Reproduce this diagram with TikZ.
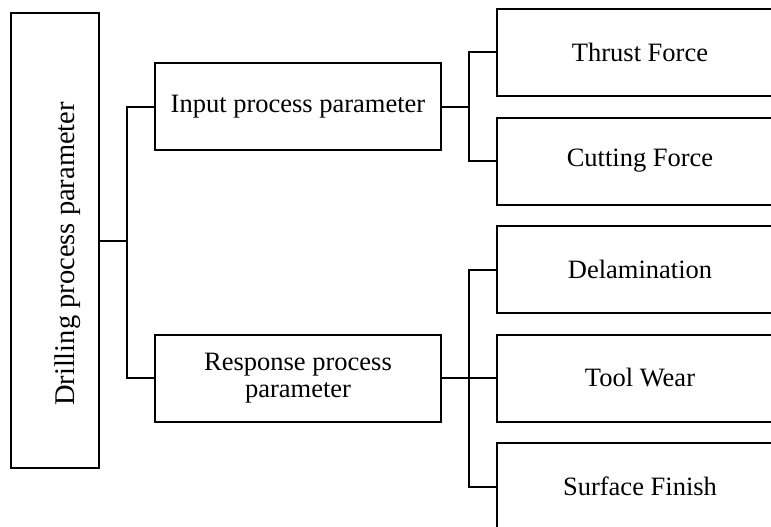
\documentclass[tikz,border=0pt]{standalone}
\usepackage{fontspec}
\setmainfont{Liberation Serif}
\begin{document}
\begin{tikzpicture}[x=1pt,y=-1pt,line width=2pt,
  txt/.style={font=\fontsize{26.5}{27}\selectfont},
  box/.style={draw, rectangle, inner sep=0pt, minimum width=286pt, minimum height=87pt, align=center, txt},
  conn/.style={draw, line width=2pt}]
\useasboundingbox (0,0) rectangle (771,527);
\clip (0,0) rectangle (771,527);
% left box
\node[draw, rectangle, inner sep=0pt, minimum width=88pt, minimum height=455pt] (drill) at (55,240.5) {};
\node[font=\fontsize{28.5}{30}\selectfont, rotate=90, anchor=base] (drilltext) at (74,254) {Drilling process parameter};
% middle boxes
\node[box] (input) at (298,106.5) {Input process parameter};
\node[box] (response) at (298,378) {Response process\\parameter};
% right boxes
\node[box] (thrust) at (640,52.5) {Thrust Force};
\node[box] (cutting) at (640,161) {Cutting Force};
\node[box] (delam) at (640,269.5) {Delamination};
\node[box] (wear) at (640,378) {Tool Wear};
\node[box] (finish) at (640,486.5) {Surface Finish};
% buses
\coordinate (b1) at (127,240.5);
\coordinate (b2) at (469,106.5);
\coordinate (b3) at (469,378);
\draw[conn] (drill.east) -- (b1);
\draw[conn] (input.west) -| (b1) |- (response.west);
\draw[conn] (input.east) -- (b2);
\draw[conn] (thrust.west) -| (b2) |- (cutting.west);
\draw[conn] (response.east) -- (b3);
\draw[conn] (delam.west) -| (b3) |- (finish.west);
\draw[conn] (b3) -- (wear.west);
\end{tikzpicture}
\end{document}
